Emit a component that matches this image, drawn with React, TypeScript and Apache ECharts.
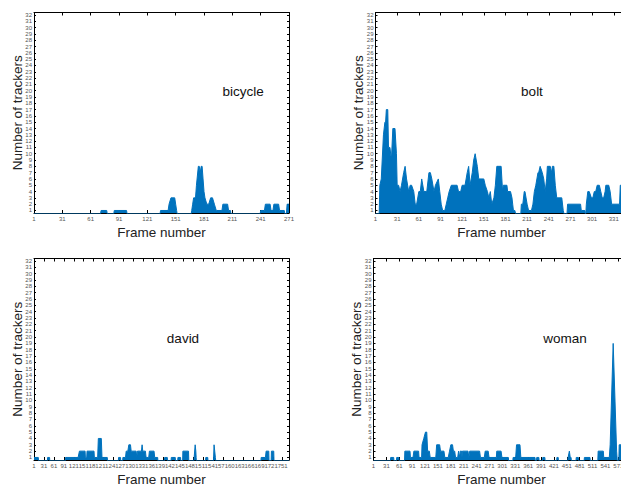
import React, { useEffect, useRef } from "react";
import * as echarts from "echarts";

// Tracker counts per frame, as [frame, trackers] break points of each sequence.
const bicycle: number[][] = [
  [1, 0], [71, 0], [72, 1], [78, 1], [79, 0], [85, 0], [86, 1], [99, 1], [100, 0],
  [134, 0], [135, 1], [143, 1], [144, 2], [146, 3], [150, 3], [151, 2], [152, 1], [153, 0],
  [167, 0], [168, 1], [169, 2], [170, 3], [172, 3], [173, 5], [175, 8], [176, 8], [177, 7],
  [178, 8], [179, 8], [180, 6], [181, 4], [182, 3], [184, 2], [186, 2], [188, 3], [190, 3],
  [192, 2], [194, 1], [200, 1], [201, 2], [206, 2], [207, 1], [209, 1], [210, 0],
  [240, 0], [241, 1], [245, 1], [246, 2], [251, 2], [252, 1], [254, 1], [255, 2], [260, 2],
  [261, 1], [266, 1], [267, 0], [268, 0], [269, 2], [271, 2],
];

const bolt: number[][] = [
  [1, 0], [6, 0], [7, 5], [9, 6], [12, 13], [14, 15], [15, 15], [16, 17], [18, 17], [19, 11],
  [21, 11], [23, 9], [25, 14], [28, 14], [30, 10], [31, 5], [33, 5], [35, 4], [37, 5], [40, 7],
  [42, 8], [44, 6], [47, 4], [49, 5], [51, 5], [54, 4], [56, 2], [58, 2], [61, 4], [63, 4],
  [65, 6], [68, 4], [72, 4], [75, 7], [77, 7], [79, 6], [82, 4], [84, 5], [88, 6], [90, 4],
  [92, 2], [94, 1], [97, 1], [99, 2], [101, 3], [103, 4], [106, 5], [114, 5], [116, 4],
  [119, 4], [121, 5], [125, 5], [128, 7], [130, 8], [132, 5], [135, 7], [137, 9], [139, 10],
  [142, 8], [144, 6], [151, 6], [153, 5], [156, 4], [158, 3], [160, 4], [162, 2], [165, 3],
  [167, 5], [169, 8], [175, 8], [176, 6], [177, 4], [178, 5], [183, 5], [184, 4], [188, 4],
  [190, 3], [191, 2], [192, 1], [194, 1], [196, 0], [202, 0], [203, 2], [205, 2], [207, 4],
  [208, 4], [211, 2], [213, 1], [217, 1], [219, 2], [221, 4], [223, 5], [226, 7], [227, 7],
  [229, 8], [232, 7], [234, 6], [236, 4], [238, 6], [239, 8], [243, 8], [245, 7], [246, 8],
  [248, 8], [250, 5], [252, 3], [259, 3], [261, 1], [263, 0], [266, 0], [267, 2], [285, 2],
  [286, 1], [291, 1], [292, 0], [293, 2], [295, 4], [297, 4], [300, 3], [302, 3], [304, 4],
  [306, 4], [308, 5], [311, 5], [313, 4], [315, 3], [317, 3], [319, 4], [320, 5], [324, 5],
  [326, 4], [328, 2], [339, 2], [340, 5], [350, 5],
];

const david: number[][] = [
  [1, 1], [14, 1], [15, 0], [41, 0], [42, 1], [48, 1], [49, 0], [95, 0], [96, 1], [134, 1],
  [138, 2], [155, 2], [156, 1], [160, 1], [161, 2], [182, 2], [183, 1], [193, 1], [195, 4],
  [204, 4], [206, 1], [222, 1], [223, 0], [255, 0], [256, 1], [262, 1], [263, 0], [268, 0],
  [269, 1], [277, 1], [279, 2], [284, 2], [287, 3], [292, 3], [294, 2], [309, 2], [311, 1],
  [313, 2], [325, 2], [327, 3], [329, 2], [337, 2], [339, 1], [347, 1], [349, 2], [363, 2],
  [365, 1], [374, 1], [375, 0], [394, 0], [395, 1], [403, 1], [404, 0], [414, 0], [415, 1],
  [427, 1], [428, 0], [434, 0], [435, 1], [443, 1], [444, 0], [449, 0], [450, 2], [467, 2],
  [468, 0], [483, 0], [484, 1], [487, 3], [489, 2], [490, 1], [491, 0], [518, 0], [519, 1],
  [525, 1], [526, 0], [542, 0], [544, 3], [546, 2], [548, 1], [550, 0], [685, 0], [686, 1],
  [699, 1], [701, 2], [709, 2], [710, 0], [716, 0], [717, 2], [724, 2], [725, 0], [770, 0],
];

const woman: number[][] = [
  [1, 0], [40, 0], [41, 1], [48, 1], [49, 0], [54, 0], [55, 1], [60, 1], [61, 0], [73, 0],
  [74, 2], [86, 2], [87, 1], [93, 1], [95, 2], [106, 2], [107, 1], [113, 1], [114, 3],
  [118, 4], [122, 5], [125, 5], [127, 2], [131, 2], [133, 1], [146, 1], [148, 3], [155, 3],
  [157, 2], [165, 2], [167, 1], [175, 1], [178, 2], [181, 3], [185, 3], [187, 2], [190, 2],
  [192, 1], [197, 1], [199, 2], [202, 1], [203, 2], [206, 2], [207, 1], [208, 2], [221, 2],
  [223, 1], [225, 2], [248, 2], [250, 1], [259, 1], [261, 2], [268, 2], [270, 1], [287, 1],
  [288, 2], [298, 2], [300, 1], [315, 1], [316, 0], [325, 0], [326, 1], [332, 1], [334, 3],
  [342, 3], [344, 1], [377, 1], [378, 0], [380, 0], [381, 1], [386, 1], [387, 0], [394, 0],
  [395, 1], [400, 1], [401, 0], [427, 0], [428, 1], [431, 1], [432, 0], [453, 0], [454, 1],
  [457, 2], [459, 1], [461, 1], [462, 0], [472, 0], [473, 1], [478, 1], [479, 0], [491, 0],
  [492, 1], [505, 1], [506, 0], [523, 0], [524, 2], [536, 2], [537, 1], [550, 1], [552, 3],
  [559, 19], [560, 19], [567, 2], [569, 0], [572, 0], [573, 3], [577, 3], [579, 1], [597, 1],
];

// Tick labels
const yTicks = [
  1, 2, 3, 4, 5, 6, 7, 8, 9, 10, 11, 12, 13, 14, 15, 16,
  17, 18, 19, 20, 21, 22, 23, 24, 25, 26, 27, 28, 29, 30, 31, 32,
];
const bicycleTicks = [1, 31, 61, 91, 121, 151, 181, 211, 241, 271];
const boltTicks = [1, 31, 61, 91, 121, 151, 181, 211, 241, 271, 301, 331];
const davidTicks = [
  1, 31, 61, 91, 121, 151, 181, 211, 241, 271, 301, 331, 361,
  391, 421, 451, 481, 511, 541, 571, 601, 631, 661, 691, 721, 751,
];
const womanTicks = [1, 31, 61, 91, 121, 151, 181, 211, 241, 271, 301, 331, 361, 391, 421, 451, 481, 511, 541, 571];

const FONT = "'Liberation Sans', Arial, Helvetica, sans-serif";
const BLUE = "#0072BD";

const panels = [
  { title: "bicycle", data: bicycle, lastFrame: 271, ticks: bicycleTicks,
    grid: { left: 34, top: 12.5, width: 255, height: 200.5 }, titlePos: [243, 91.5] },
  { title: "bolt", data: bolt, lastFrame: 350, ticks: boltTicks,
    grid: { left: 375.5, top: 12.5, width: 252, height: 200.5 }, titlePos: [532, 91.5] },
  { title: "david", data: david, lastFrame: 770, ticks: davidTicks,
    grid: { left: 34, top: 258.5, width: 255, height: 201.5 }, titlePos: [183, 338] },
  { title: "woman", data: woman, lastFrame: 597, ticks: womanTicks,
    grid: { left: 373.5, top: 258.5, width: 256, height: 201.5 }, titlePos: [565, 338] },
];

const axisLine = { show: true, onZero: false, lineStyle: { color: "#000", width: 1 } };

function buildOption() {
  const grid = panels.map((p) => ({ ...p.grid, containLabel: false, outerBoundsMode: "none" }));

  const xAxis = panels.flatMap((p, i) => {
    const common = {
      type: "value",
      gridIndex: i,
      min: 1,
      max: p.lastFrame,
      axisLine,
      splitLine: { show: false },
      axisTick: { show: true, inside: true, length: 3, customValues: p.ticks, lineStyle: { color: "#000" } },
    };
    return [
      {
        ...common,
        position: "bottom",
        axisLabel: {
          show: true, customValues: p.ticks, interval: 0, hideOverlap: false,
          fontSize: 6, color: "#555", margin: 3, fontFamily: FONT,
        },
        name: "Frame number",
        nameLocation: "middle",
        nameGap: 12,
        nameMoveOverlap: false,
        nameTextStyle: { fontSize: 13.5, color: "#222", fontFamily: FONT },
      },
      { ...common, position: "top", axisLabel: { show: false } },
    ];
  });

  const yAxis = panels.flatMap((p, i) => {
    const common = {
      type: "value",
      gridIndex: i,
      min: 0.6,
      max: 32.4,
      axisLine,
      splitLine: { show: false },
      axisTick: { show: true, inside: true, length: 2, customValues: yTicks, lineStyle: { color: "#000" } },
    };
    return [
      {
        ...common,
        position: "left",
        axisLabel: {
          show: true, customValues: yTicks, interval: 0, hideOverlap: false,
          fontSize: 6, color: "#555", margin: 2, fontFamily: FONT,
        },
        name: "Number of trackers",
        nameLocation: "middle",
        nameGap: 10,
        nameMoveOverlap: false,
        nameTextStyle: { fontSize: 13.5, color: "#222", fontFamily: FONT },
      },
      { ...common, position: "right", axisLabel: { show: false } },
    ];
  });

  const series = panels.map((p, i) => ({
    type: "line",
    name: p.title,
    xAxisIndex: 2 * i,
    yAxisIndex: 2 * i,
    data: p.data,
    symbol: "none",
    showSymbol: false,
    silent: true,
    clip: true,
    lineStyle: { color: BLUE, width: 1 },
    areaStyle: { color: BLUE, opacity: 1, origin: "start" },
  }));

  const graphic = panels.map((p) => ({
    type: "text",
    x: p.titlePos[0],
    y: p.titlePos[1],
    silent: true,
    style: {
      text: p.title,
      fontSize: 13.5,
      fontFamily: FONT,
      fill: "#111",
      align: "center",
      verticalAlign: "middle",
    },
  }));

  return {
    animation: false,
    backgroundColor: "#fff",
    grid,
    xAxis,
    yAxis,
    series,
    graphic,
  };
}

export default function App() {
  const ref = useRef<HTMLDivElement>(null);

  useEffect(() => {
    if (!ref.current) return;
    const chart = echarts.init(ref.current, null, { renderer: "svg" });
    chart.setOption(buildOption() as any);
    return () => chart.dispose();
  }, []);

  return (
    <div
      ref={ref}
      style={{ position: "absolute", left: 0, top: 0, width: 621, height: 485 }}
    />
  );
}
